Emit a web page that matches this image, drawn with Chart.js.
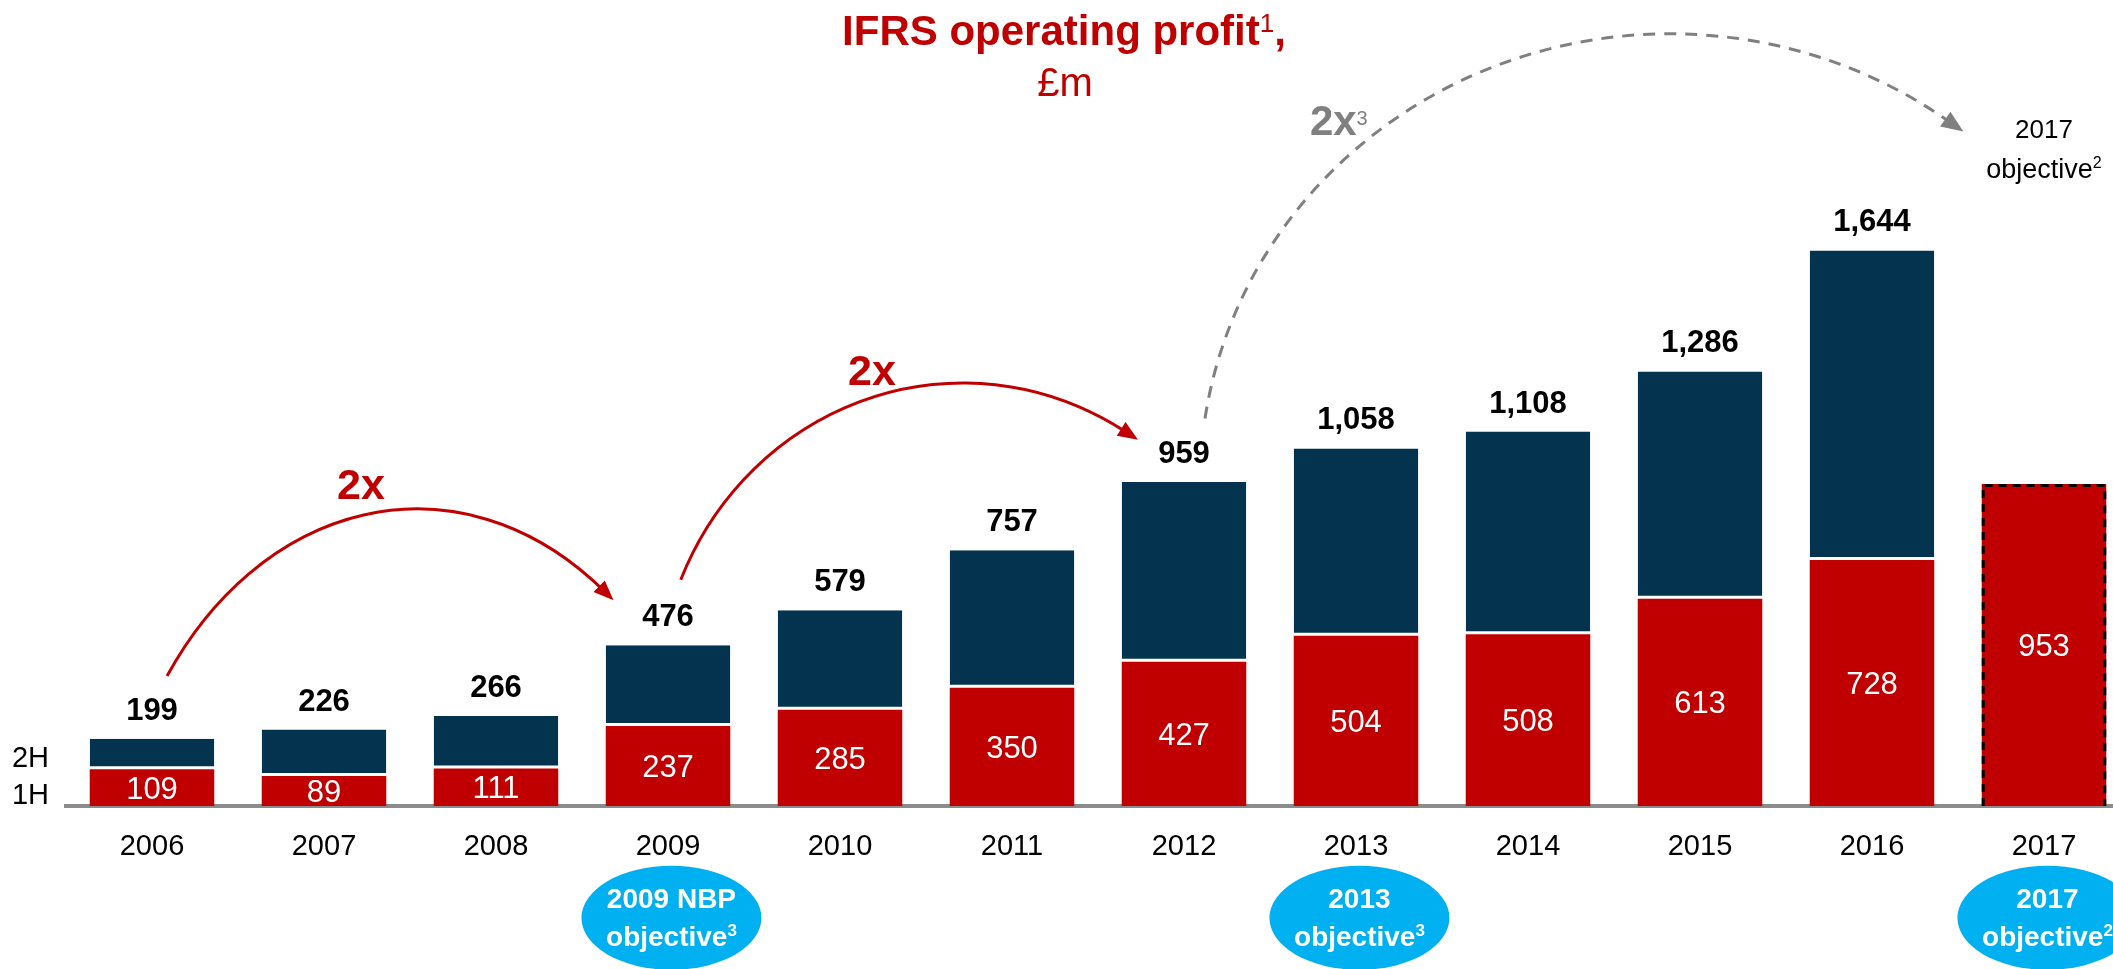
<!DOCTYPE html>
<html>
<head>
<meta charset="utf-8">
<title>IFRS operating profit</title>
<script src="https://cdn.jsdelivr.net/npm/chart.js@4.4.1/dist/chart.umd.min.js"></script>
<style>
    html, body { margin: 0; padding: 0; background: #fff; overflow: hidden; }
    #wrap { position: absolute; left: 0; top: 0; width: 2140px; height: 969px; }
</style>
</head>
<body>
<div id="wrap"><canvas id="profitChart" width="2140" height="969"></canvas></div>
<script>
/* ===== DATA ===== */
const years = ['2006', '2007', '2008', '2009', '2010', '2011', '2012', '2013', '2014', '2015', '2016', '2017'];
const firstHalf = [109, 89, 111, 237, 285, 350, 427, 504, 508, 613, 728, 953];
const secondHalf = [90, 137, 155, 239, 294, 407, 532, 554, 600, 673, 916, null];
const yMax = 2385;

/* ===== STYLE ===== */
const FONT = "'Liberation Sans', Arial, sans-serif";
const RED = '#C00000';
const NAVY = '#03334F';
const BLUE = '#00B0F0';
const GREY = '#808080';

// arcs in chart units: cx / rx in categories, cy / ry in £m
const arrowArcs = [
    { cx: 1.541, cy: -278, rx: 1.773, ry: 1157, from: -2.532, to: -0.925, color: RED, dash: [], head: 18 },
    { cx: 4.715, cy: 314, rx: 1.773, ry: 938, from: -2.753, to: -1.019, color: RED, dash: [], head: 18 },
    { cx: 8.826, cy: 953, rx: 2.733, ry: 1332, from: -2.9955, to: -0.941, color: GREY, dash: [12, 9], head: 20 }
];

const badges = [
    { cat: 3, title: '2009 NBP', sup: '3' },
    { cat: 7, title: '2013', sup: '3' },
    { cat: 11, title: '2017', sup: '2' }
];

function drawRuns(ctx, runs, cx, baseline, color) {
    let total = 0;
    runs.forEach(r => {
        ctx.font = r.font;
        r.w = ctx.measureText(r.text).width;
        total += r.w;
    });
    let x = cx - total / 2;
    ctx.fillStyle = color;
    ctx.textAlign = 'left';
    ctx.textBaseline = 'alphabetic';
    runs.forEach(r => {
        ctx.font = r.font;
        ctx.fillText(r.text, x, baseline + (r.dy || 0));
        x += r.w;
    });
}

/* ===== ANNOTATIONS ===== */
const annotations = {
    id: 'annotations',
    afterDatasetsDraw(chart) {
        const { ctx, chartArea, scales: { x, y } } = chart;
        const step = x.getPixelForValue(1) - x.getPixelForValue(0);
        const px = i => x.getPixelForValue(0) + i * step;
        const py = v => y.getPixelForValue(v);
        const k = py(0) - py(1);
        const m1 = chart.getDatasetMeta(0);
        const m2 = chart.getDatasetMeta(1);

        ctx.save();

        // dashed outline of the objective bar
        const last = m1.data[years.length - 1];
        const l = last.x - last.width / 2 + 1.5, r = last.x + last.width / 2 - 1.5;
        ctx.strokeStyle = '#000';
        ctx.lineWidth = 3;
        ctx.setLineDash([8, 6]);
        ctx.beginPath();
        ctx.moveTo(l, last.base);
        ctx.lineTo(l, last.y + 1.5);
        ctx.lineTo(r, last.y + 1.5);
        ctx.lineTo(r, last.base);
        ctx.stroke();
        ctx.setLineDash([]);

        // values inside 1H and totals above
        ctx.textAlign = 'center';
        ctx.textBaseline = 'alphabetic';
        years.forEach((yr, i) => {
            const el = m1.data[i];
            ctx.fillStyle = '#fff';
            ctx.font = '31px ' + FONT;
            ctx.fillText(String(firstHalf[i]), el.x, (el.y + el.base) / 2 + 11);
            if (secondHalf[i] != null) {
                const top = m2.data[i].y;
                ctx.fillStyle = '#000';
                ctx.font = 'bold 31px ' + FONT;
                ctx.fillText((firstHalf[i] + secondHalf[i]).toLocaleString('en-GB'), el.x, top - 19);
            }
        });

        // 2H / 1H labels
        ctx.fillStyle = '#000';
        ctx.font = '29px ' + FONT;
        ctx.textAlign = 'right';
        const h2 = m2.data[0], h1 = m1.data[0];
        ctx.fillText('2H', chartArea.left - 17, (h2.y + h2.base) / 2 + 13);
        ctx.fillText('1H', chartArea.left - 17, (h1.y + h1.base) / 2 + 16);

        // title
        drawRuns(ctx, [
            { text: 'IFRS operating profit', font: 'bold 42px ' + FONT },
            { text: '1', font: '26px ' + FONT, dy: -13 },
            { text: ',', font: 'bold 42px ' + FONT }
        ], 1064, 45, RED);
        drawRuns(ctx, [{ text: '£m', font: '40px ' + FONT }], 1065, 96, RED);

        // arcs with arrowheads
        arrowArcs.forEach(a => {
            const ex = px(a.cx), ey = py(a.cy), rxp = a.rx * step, ryp = a.ry * k;
            ctx.strokeStyle = a.color;
            ctx.fillStyle = a.color;
            ctx.lineWidth = 3;
            ctx.setLineDash(a.dash);
            ctx.beginPath();
            ctx.ellipse(ex, ey, rxp, ryp, 0, a.from, a.to);
            ctx.stroke();
            ctx.setLineDash([]);
            const endX = ex + rxp * Math.cos(a.to), endY = ey + ryp * Math.sin(a.to);
            let dx = -rxp * Math.sin(a.to), dy = ryp * Math.cos(a.to);
            const len = Math.hypot(dx, dy);
            dx /= len; dy /= len;
            const hw = a.head * 0.45;
            ctx.beginPath();
            ctx.moveTo(endX + dx * a.head, endY + dy * a.head);
            ctx.lineTo(endX - dx * 2 - dy * hw, endY - dy * 2 + dx * hw);
            ctx.lineTo(endX - dx * 2 + dy * hw, endY - dy * 2 - dx * hw);
            ctx.closePath();
            ctx.fill();
        });

        // growth labels
        drawRuns(ctx, [{ text: '2x', font: 'bold 43px ' + FONT }], px(1.215), py(908), RED);
        drawRuns(ctx, [{ text: '2x', font: 'bold 43px ' + FONT }], px(4.186), py(1246), RED);
        drawRuns(ctx, [
            { text: '2x', font: 'bold 42px ' + FONT },
            { text: '3', font: '20px ' + FONT, dy: -10 }
        ], px(6.9), py(1985), GREY);

        // 2017 objective note
        drawRuns(ctx, [{ text: '2017', font: '26px ' + FONT }], px(11), py(1977), '#000');
        drawRuns(ctx, [
            { text: 'objective', font: '27px ' + FONT },
            { text: '2', font: '16px ' + FONT, dy: -10 }
        ], px(11), py(1858), '#000');

        // objective badges
        badges.forEach(b => {
            const cx = px(b.cat + 0.02), cy = py(-331);
            ctx.fillStyle = BLUE;
            ctx.beginPath();
            ctx.ellipse(cx, cy, 90, 52, 0, 0, Math.PI * 2);
            ctx.fill();
            drawRuns(ctx, [{ text: b.title, font: 'bold 28px ' + FONT }], cx, cy - 10, '#fff');
            drawRuns(ctx, [
                { text: 'objective', font: 'bold 28px ' + FONT },
                { text: b.sup, font: 'bold 17px ' + FONT, dy: -10 }
            ], cx, cy + 28, '#fff');
        });

        ctx.restore();
    }
};

/* ===== CHART ===== */
new Chart(document.getElementById('profitChart'), {
    type: 'bar',
    data: {
        labels: years,
        datasets: [
            {
                label: '1H',
                data: firstHalf,
                backgroundColor: RED,
                borderWidth: 0
            },
            {
                label: '2H',
                data: secondHalf,
                backgroundColor: NAVY,
                borderColor: '#fff',
                borderWidth: { top: 0, left: 0, right: 0, bottom: 3 },
                borderSkipped: false
            }
        ]
    },
    options: {
        responsive: false,
        animation: false,
        devicePixelRatio: 1,
        layout: { padding: { left: 66, right: 10, top: 0, bottom: 0 } },
        datasets: { bar: { barPercentage: 0.724, categoryPercentage: 1 } },
        plugins: {
            legend: { display: false },
            tooltip: { enabled: false },
            title: { display: false }
        },
        scales: {
            x: {
                stacked: true,
                grid: { display: false, drawTicks: false },
                border: { display: true, color: '#8c8c8c', width: 4 },
                ticks: {
                    color: '#000',
                    font: { family: FONT, size: 29 },
                    padding: 24,
                    maxRotation: 0,
                    autoSkip: false
                },
                afterFit(scale) { scale.height = 163; }
            },
            y: {
                stacked: true,
                display: false,
                min: 0,
                max: yMax
            }
        }
    },
    plugins: [annotations]
});
</script>
</body>
</html>
